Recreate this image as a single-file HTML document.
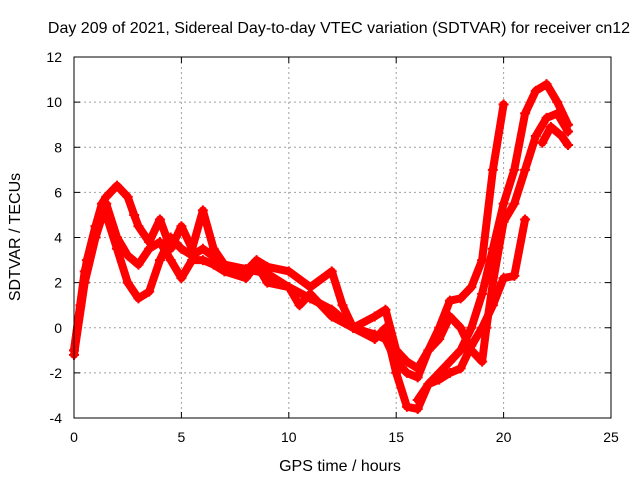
<!DOCTYPE html>
<html><head><meta charset="utf-8"><style>
body{margin:0;background:#fff}
svg{display:block;font-family:"Liberation Sans",sans-serif}
</style></head><body>
<svg id="chart" width="640" height="480" viewBox="0 0 640 480">
<rect width="640" height="480" fill="#fff"/>
<text x="339" y="33" font-size="16" text-anchor="middle">Day 209 of 2021, Sidereal Day-to-day VTEC variation (SDTVAR) for receiver cn12</text>
<text x="340" y="471" font-size="16" text-anchor="middle">GPS time / hours</text>
<text transform="translate(20,237) rotate(-90)" font-size="16" text-anchor="middle">SDTVAR / TECUs</text>
<g id="grid"></g><g id="ticks"></g><g id="marks"></g>
<rect x="74" y="57" width="537" height="361" fill="none" stroke="#000" stroke-width="1"/>
</svg>
<script>
const xTicks=[0,5,10,15,20,25];
const yTicks=[-4,-2,0,2,4,6,8,10,12];
const s1t=[0,0.3,0.6,1,1.3,1.5,2,2.5,2.8,3,3.5,4,4.5,5,5.5,6,6.5,7,8,8.5,9,10,11,12,12.5,13,14,14.5,15,15.5,16,16.5,17,17.5,18,18.5,19,19.5,20];
const s1v=[-1,1,3,4.5,5.5,5.8,6.3,5.8,5,4.5,3.8,4.8,3.5,4.5,3.5,5.2,3.5,2.8,2.5,3,2.7,2.5,1.8,2.5,1,0,0.5,0.8,-1,-1.5,-1.8,-1,0,1.2,1.3,1.8,3,7,9.9];
const s2t=[0,0.5,1,1.5,2,2.5,3,3.5,4,4.5,5,5.5,6,6.5,7,8,8.5,9,10,10.5,11,12,13,14,14.5,15,15.5,16,16.5,17,17.5,18,18.5,19,19.5,20,20.5,21,21.5,22,22.5,23];
const s2v=[-1.2,2,4,5.5,4,3.2,2.8,3.5,3.8,3,2.2,3,3,2.8,2.5,2.2,2.8,2,1.8,1,1.5,0.5,0,-0.5,0,-2,-3.5,-3.6,-2.5,-2,-1.5,-1,0,1.5,3.5,5.5,7,9.5,10.5,10.8,10,9];
const s3t=[0,0.5,1,1.5,2,2.5,3,3.5,4,4.5,5,5.5,6,7,8,9,10,11,12,13,14,14.5,15,15.5,16,16.5,17,17.5,18,18.5,19,19.2,19.5,20,20.5,21,21.5,22,22.5,23];
const s3v=[-1,2.5,4.5,5,3.5,2,1.3,1.6,3,4,3.5,3.2,3.5,2.8,2.6,2.4,1.8,1.3,0.8,0,-0.3,-0.5,-1.5,-2,-2.2,-1,-0.5,0.5,0,-1,-1.5,0,2,4.7,5.5,7,8.5,9.3,9.5,8.7];
const s4t=[16,16.5,17,17.5,18,18.5,19,19.5,20,20.5,21];
const s4v=[-3.2,-2.5,-2.3,-2,-1.8,-0.8,0,1,2.2,2.3,4.8];
const s5t=[21.8,22.2,22.7,23];
const s5v=[8.2,8.9,8.5,8.1];
const NS="http://www.w3.org/2000/svg";
function X(h){return 74+h*537/25;}
function Y(v){return 418-(v+4)*361/16;}
const grid=document.getElementById('grid'),ticks=document.getElementById('ticks'),marks=document.getElementById('marks');
function mk(tag,at,parent){const e=document.createElementNS(NS,tag);for(const k in at)e.setAttribute(k,at[k]);parent.appendChild(e);return e;}
xTicks.forEach(t=>{
  if(t>0&&t<25){const g=mk('line',{x1:X(t),x2:X(t),y1:57,y2:418,stroke:'#a0a0a0','stroke-dasharray':'2,3'},grid);
  
  }
  mk('line',{x1:X(t),x2:X(t),y1:418,y2:412,stroke:'#000'},ticks);
  mk('line',{x1:X(t),x2:X(t),y1:57,y2:63,stroke:'#000'},ticks);
  const tx=mk('text',{x:X(t),y:442,'font-size':14,'text-anchor':'middle'},ticks);tx.textContent=t;
  
  
});
yTicks.forEach(t=>{
  if(t>-4&&t<12){const g=mk('line',{x1:74,x2:611,y1:Y(t),y2:Y(t),stroke:'#a0a0a0','stroke-dasharray':'2,3'},grid);
  
  }
  mk('line',{x1:74,x2:80,y1:Y(t),y2:Y(t),stroke:'#000'},ticks);
  mk('line',{x1:605,x2:611,y1:Y(t),y2:Y(t),stroke:'#000'},ticks);
  const tx=mk('text',{x:62,y:Y(t)+5,'font-size':14,'text-anchor':'end'},ticks);tx.textContent=t;
  
  
});
[[s1t,s1v],[s2t,s2v],[s3t,s3v],[s4t,s4v],[s5t,s5v]].forEach((s,i)=>{
  const [ts,vs]=s;
  const pts=ts.map((t,j)=>X(t).toFixed(1)+','+Y(vs[j]).toFixed(1)).join(' ');
  const pl=mk('polyline',{points:pts,fill:'none',stroke:'#f00','stroke-width':8,'stroke-linejoin':'round','stroke-linecap':'round'},marks);
  
  
  ts.forEach((t,j)=>{
    const x=X(t),y=Y(vs[j]);
    const p=mk('path',{d:`M${x-5},${y}H${x+5}M${x},${y-5}V${y+5}`,stroke:'#f00','stroke-width':2},marks);
    
    
  });
});
</script>
</body></html>
